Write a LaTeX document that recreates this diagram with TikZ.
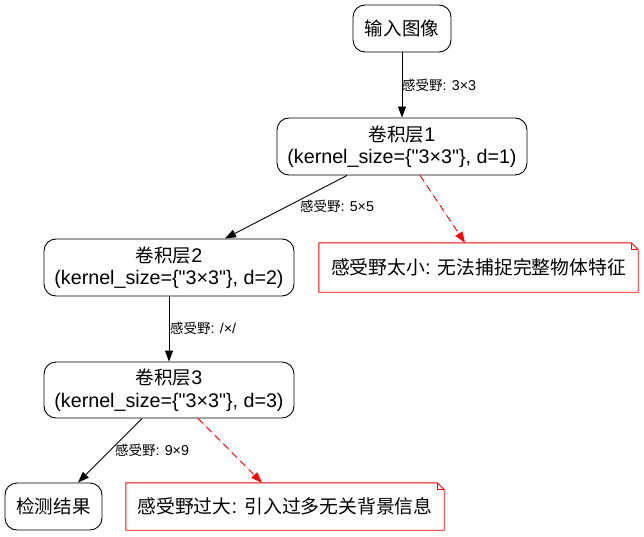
\documentclass[tikz,border=0pt]{standalone}
\usepackage{fontspec}
\newfontfamily\latin{Liberation Sans}
\newfontfamily\cjk[Scale=0.94]{Noto Sans CJK SC}
\usetikzlibrary{arrows.meta}
\tikzset{
  box/.style={draw, rounded corners=12pt, line width=0.9pt, align=center, inner sep=0pt, font=\latin\fontsize{19.7}{22.5}\selectfont},
  notebox/.style={align=center, inner sep=0pt, font=\latin\fontsize{20}{22}\selectfont},
  notebord/.style={draw=red, line width=0.9pt},
  elabel/.style={anchor=west, inner sep=0pt, font=\latin\fontsize{14.3}{16}\selectfont},
  arr/.style={-{Triangle[length=11pt,width=8pt]}, line width=0.9pt},
  redarr/.style={arr, draw=red, fill=red, dash pattern=on 7pt off 5pt}
}
\begin{document}
\begin{tikzpicture}[x=1pt,y=-1pt]
\useasboundingbox (0,0) rectangle (644,537);
\node[box, minimum width=98pt, minimum height=47pt] (in) at (402,28.5) {\cjk 输入图像};
\node[box, minimum width=250pt, minimum height=57pt] (c1) at (402,146.5) {{\cjk 卷积层}1\\(kernel\_size=\{"3×3"\}, d=1)};
\node[box, minimum width=250pt, minimum height=57pt] (c2) at (169,267.5) {{\cjk 卷积层}2\\(kernel\_size=\{"3×3"\}, d=2)};
\node[box, minimum width=250pt, minimum height=56pt] (c3) at (169,390) {{\cjk 卷积层}3\\(kernel\_size=\{"3×3"\}, d=3)};
\node[box, minimum width=97pt, minimum height=47pt] (out) at (53.5,506.5) {\cjk 检测结果};
\node[notebox, minimum width=319pt, minimum height=49pt] (n1) at (478.5,267.5) {{\cjk 感受野太小}: {\cjk 无法捕捉完整物体特征}};
\node[notebox, minimum width=318pt, minimum height=47pt] (n2) at (285,506.5) {{\cjk 感受野过大}: {\cjk 引入过多无关背景信息}};
\foreach \n in {n1,n2}{
  \draw[notebord] (\n.north west) -- ([xshift=-7pt]\n.north east) -- ([yshift=-7pt]\n.north east) -- (\n.south east) -- (\n.south west) -- cycle;
  \draw[notebord] ([xshift=-7pt]\n.north east) |- ([yshift=-7pt]\n.north east);
}
\draw[arr] (in) -- (c1);
\draw[arr] ([xshift=-55pt]c1.south) -- ([xshift=56pt]c2.north);
\draw[redarr] ([xshift=18pt]c1.south) -- ([xshift=-13.5pt]n1.north);
\draw[arr] (c2) -- (c3);
\draw[arr] ([xshift=-27pt]c3.south) -- ([xshift=24.5pt]out.north);
\draw[redarr] ([xshift=29pt]c3.south) -- ([xshift=-23pt]n2.north);
\node[elabel] (l1) at (402,85) {{\cjk 感受野}: 3×3};
\node[elabel] (l2) at (300,206) {{\cjk 感受野}: 5×5};
\node[elabel] (l3) at (170,328) {{\cjk 感受野}: /×/};
\node[elabel] (l4) at (115,450) {{\cjk 感受野}: 9×9};
\end{tikzpicture}
\end{document}
